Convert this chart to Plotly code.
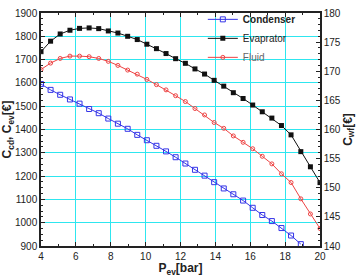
import plotly.graph_objects as go

p_ev = [4.00, 4.55, 5.10, 5.66, 6.21, 6.76, 7.31, 7.86, 8.41, 8.97,
        9.52, 10.07, 10.62, 11.17, 11.72, 12.28, 12.83, 13.38, 13.93, 14.48,
        15.03, 15.59, 16.14, 16.69, 17.24, 17.79, 18.34, 18.90, 19.45, 20.00]

condenser = [1595, 1570, 1549, 1529, 1511, 1488, 1470, 1447, 1425, 1403,
             1377, 1354, 1330, 1306, 1281, 1254, 1227, 1202, 1174, 1147,
             1122, 1095, 1064, 1033, 1007, 977, 945, 908]

evaporator = [1734, 1779, 1810, 1826, 1834, 1836, 1833, 1823, 1814, 1800,
              1786, 1766, 1747, 1726, 1704, 1684, 1660, 1638, 1611, 1586,
              1558, 1533, 1505, 1476, 1449, 1417, 1377, 1305, 1240, 1172]

fluid = [170.3, 171.4, 172.2, 172.6, 172.6, 172.5, 172.2, 171.7, 171.0, 170.2,
         169.5, 168.6, 167.7, 166.8, 165.8, 164.8, 163.6, 162.5, 161.2, 160.2,
         158.9, 157.8, 156.7, 155.4, 154.1, 152.4, 150.9, 148.1, 145.5, 143.0]

x_ticks = [4, 6, 8, 10, 12, 14, 16, 18, 20]
y_ticks = [900, 1000, 1100, 1200, 1300, 1400, 1500, 1600, 1700, 1800, 1900]
y2_ticks = [140, 145, 150, 155, 160, 165, 170, 175, 180]

FONT = "Liberation Sans, Arial, sans-serif"
GRID = "#2ee6ef"

fig = go.Figure()
fig.add_trace(go.Scatter(
    x=p_ev[:len(condenser)], y=condenser, name="<b>Condenser</b>", mode="lines+markers",
    line=dict(color="#3535e8", width=1),
    marker=dict(symbol="square-open", size=5, color="#3535e8", line=dict(width=1))))
fig.add_trace(go.Scatter(
    x=p_ev, y=evaporator, name="Evaprator", mode="lines+markers",
    line=dict(color="#111111", width=1),
    marker=dict(symbol="square", size=5, color="#111111")))
fig.add_trace(go.Scatter(
    x=p_ev, y=fluid, name="<span style='color:#666'>Fluid</span>", mode="lines+markers",
    yaxis="y2",
    line=dict(color="#ee4444", width=1),
    marker=dict(symbol="circle-open", size=4, color="#ee4444", line=dict(width=1))))

fig.update_layout(
    width=363, height=277,
    margin=dict(l=38, r=43, t=5, b=29),
    paper_bgcolor="white", plot_bgcolor="white",
    font=dict(family=FONT, size=10, color="#222"),
    showlegend=True,
    legend=dict(x=0.58, y=1.035, xanchor="left", yanchor="top",
                bgcolor="rgba(0,0,0,0)", font=dict(size=10, color="#222"),
                itemwidth=30, tracegroupgap=0),
    xaxis=dict(range=[4, 20], tickvals=x_ticks, showgrid=True, gridcolor=GRID, gridwidth=1.3,
               zeroline=False, showline=True, linecolor="#222", linewidth=1.5, mirror="ticks",
               ticks="inside", ticklen=4, tickcolor="#222",
               minor=dict(dtick=1, tick0=4, ticks="inside", ticklen=2, tickcolor="#222", showgrid=False),
               title=dict(text="<b>P<sub>ev</sub>[bar]</b>", font=dict(size=12), standoff=2),
               tickfont=dict(size=10)),
    yaxis=dict(range=[900, 1900], tickvals=y_ticks, showgrid=True, gridcolor=GRID, gridwidth=1.3,
               zeroline=False, showline=True, linecolor="#222", linewidth=1.5,
               ticks="inside", ticklen=4, tickcolor="#222",
               minor=dict(dtick=25, tick0=900, ticks="inside", ticklen=2, tickcolor="#222", showgrid=False),
               title=dict(text="<b>C<sub>cd</sub>, C<sub>ev</sub>[€]</b>", font=dict(size=12), standoff=2),
               tickfont=dict(size=10)),
    yaxis2=dict(range=[140, 180], tickvals=y2_ticks, overlaying="y", side="right",
                showgrid=False, zeroline=False, showline=True, linecolor="#222", linewidth=1.5,
                ticks="inside", ticklen=4, tickcolor="#222",
                minor=dict(dtick=1, ticks="inside", ticklen=2, tickcolor="#222", showgrid=False),
                title=dict(text="<b>C<sub>wf</sub>[€]</b>", font=dict(size=12), standoff=2),
                tickfont=dict(size=10)),
)

fig.write_html("out.html")
